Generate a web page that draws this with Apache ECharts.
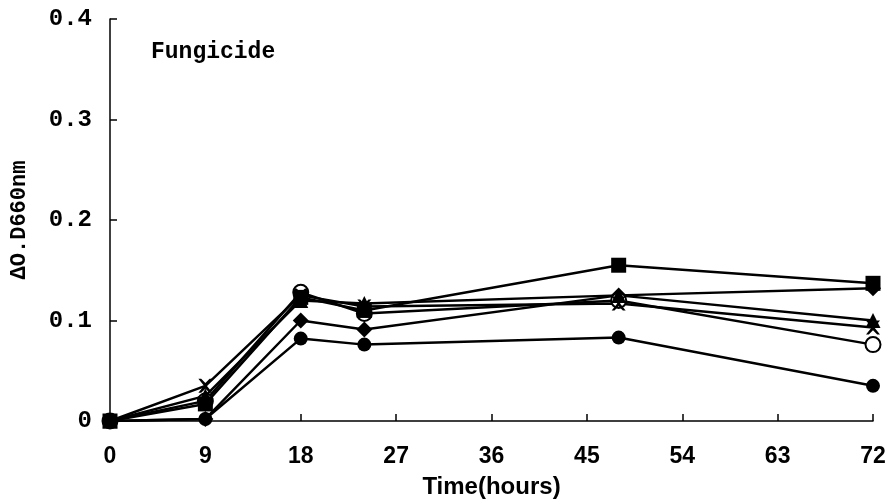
<!DOCTYPE html>
<html><head><meta charset="utf-8">
<script src="https://cdn.jsdelivr.net/npm/echarts@6/dist/echarts.min.js"></script>
<style>html,body{margin:0;padding:0;background:#fff}#c{width:890px;height:499px}</style>
</head><body><div id="c"></div>
<script>
const hours = [0, 9, 18, 24, 48, 72];
const xTicks = [0, 9, 18, 27, 36, 45, 54, 63, 72];
const yTicks = [0, 0.1, 0.2, 0.3, 0.4];
const squareVals   = [0, 0.017, 0.123, 0.110, 0.155, 0.137];
const diamondVals  = [0, 0.002, 0.100, 0.091, 0.125, 0.132];
const triangleVals = [0, 0.025, 0.120, 0.117, 0.125, 0.100];
const crossVals    = [0, 0.035, 0.125, 0.114, 0.117, 0.093];
const openCircVals = [0, 0.020, 0.128, 0.107, 0.120, 0.076];
const fillCircVals = [0, 0.002, 0.082, 0.076, 0.083, 0.035];

const crossPath = 'path://M0,0 L2,0 L5,3 L8,0 L10,0 L6,5 L10,10 L8,10 L5,7 L2,10 L0,10 L4,5 Z';
function mk(name, vals, symbol, size, fill) {
  return {
    name, type: 'line', data: hours.map((h, i) => [h, vals[i]]),
    symbol, symbolSize: size, showSymbol: true,
    lineStyle: { color: '#000', width: 2.5 },
    itemStyle: { color: fill, borderColor: '#000', borderWidth: fill === '#fff' ? 2 : 0 },
    emphasis: { disabled: true }, z: 3
  };
}
const chart = echarts.init(document.getElementById('c'));
const mono = '"Liberation Mono", monospace';
const lbl = { fontFamily: mono, fontWeight: 'bold', color: '#000' };
const narrow = '"Liberation Sans Narrow", "Liberation Sans", sans-serif';
chart.setOption({
  animation: false,
  grid: { left: 110, right: 17, top: 19, bottom: 78, containLabel: false, outerBoundsMode: 'none' },
  title: { text: 'Fungicide', left: 146, top: 36, textStyle: { fontFamily: mono, fontWeight: 'bold', fontSize: 23, color: '#000' } },
  xAxis: {
    type: 'value', min: 0, max: 72, interval: 9,
    name: 'Time(hours)', nameLocation: 'middle', nameGap: 54,
    nameTextStyle: { fontFamily: narrow, fontWeight: 'bold', fontSize: 24, color: '#000' },
    axisLine: { lineStyle: { color: '#000', width: 1.5 } },
    axisTick: { inside: true, length: 7, lineStyle: { color: '#000', width: 1.5 } },
    axisLabel: { formatter: v => xTicks.includes(v) ? String(v) : '', margin: 24, fontSize: 23, fontFamily: narrow, fontWeight: 'bold', color: '#000' },
    splitLine: { show: false }
  },
  yAxis: {
    type: 'value', min: 0, max: 0.4, interval: 0.1,
    name: 'ΔO.D660nm', nameLocation: 'middle', nameGap: 80, nameRotate: 90,
    nameTextStyle: Object.assign({ fontSize: 22 }, lbl),
    axisLine: { show: true, lineStyle: { color: '#000', width: 1.5 } },
    axisTick: { show: true, inside: true, length: 7, lineStyle: { color: '#000', width: 1.5 } },
    axisLabel: Object.assign({ formatter: v => { const t = yTicks.find(y => Math.abs(y - v) < 1e-9); return t === undefined ? '' : (t === 0 ? '0' : t.toFixed(1)); }, margin: 18, fontSize: 24 }, lbl),
    splitLine: { show: false }
  },
  series: [
    mk('fillCirc', fillCircVals, 'circle', 14, '#000'),
    mk('diamond', diamondVals, 'diamond', 16, '#000'),
    mk('openCirc', openCircVals, 'circle', 15, '#fff'),
    mk('cross', crossVals, crossPath, 14, '#000'),
    mk('triangle', triangleVals, 'triangle', 15, '#000'),
    mk('square', squareVals, 'rect', 15, '#000')
  ]
});
</script></body></html>
